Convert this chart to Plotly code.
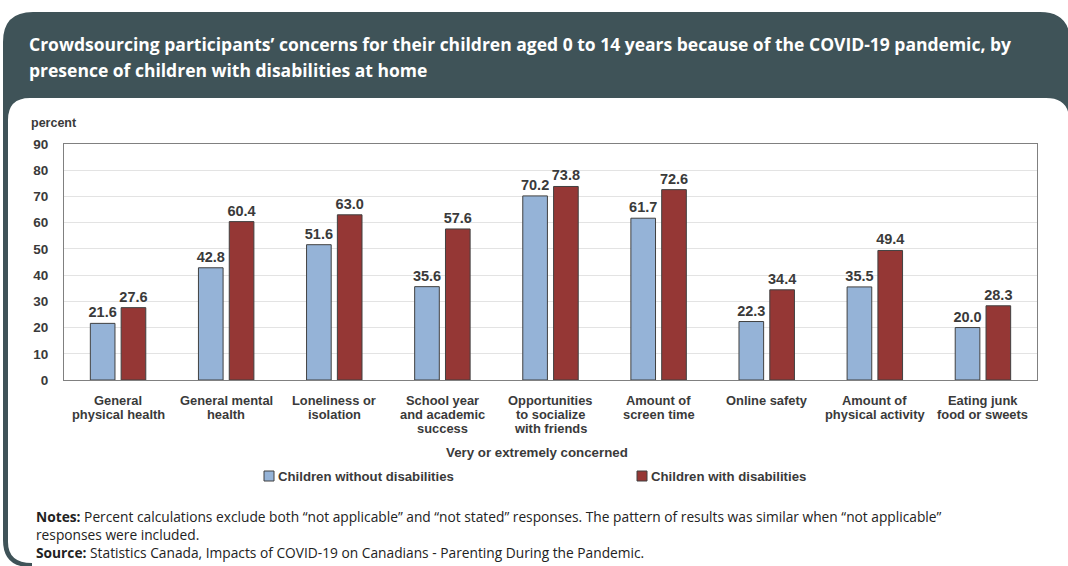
import plotly.graph_objects as go

W, H = 1068, 566

categories = [
    "General<br>physical health",
    "General mental<br>health",
    "Loneliness or<br>isolation",
    "School year<br>and academic<br>success",
    "Opportunities<br>to socialize<br>with friends",
    "Amount of<br>screen time",
    "Online safety",
    "Amount of<br>physical activity",
    "Eating junk<br>food or sweets",
]
without_dis = [21.6, 42.8, 51.6, 35.6, 70.2, 61.7, 22.3, 35.5, 20.0]
with_dis = [27.6, 60.4, 63.0, 57.6, 73.8, 72.6, 34.4, 49.4, 28.3]
series_names = ["Children without disabilities", "Children with disabilities"]
y_ticks = list(range(0, 100, 10))

title_lines = [
    "Crowdsourcing participants’ concerns for their children aged 0 to 14 years because of the COVID-19 pandemic, by",
    "presence of children with disabilities at home",
]
note_lines = [
    "<b>Notes:</b> Percent calculations exclude both “not applicable” and “not stated” responses. The pattern of results was similar when “not applicable”",
    "responses were included.",
    "<b>Source:</b> Statistics Canada, Impacts of COVID-19 on Canadians - Parenting During the Pandemic.",
]

BLUE = "#95B3D7"
RED = "#953735"
DARK = "#3F5358"
TXT = "#3a3a3a"
ARIAL = "Liberation Sans, Arial"


def px(x):
    return x / W


def py(y):
    return 1 - y / H


def path(points):
    out = []
    for p in points:
        cmd = p[0]
        coords = p[1:]
        vals = []
        for i in range(0, len(coords), 2):
            vals.append(f"{px(coords[i]):.5f},{py(coords[i+1]):.5f}")
        out.append(cmd + " ".join(vals))
    return " ".join(out) + " Z"


fig = go.Figure()
for vals, name, col in [(without_dis, series_names[0], BLUE), (with_dis, series_names[1], RED)]:
    fig.add_trace(go.Bar(
        x=categories, y=vals, name=name,
        marker=dict(color=col, line=dict(color="#404040", width=1)),
        texttemplate="%{y:.1f}", textposition="outside",
        textfont=dict(family=ARIAL, size=14.5, color=TXT, weight="bold"),
        cliponaxis=False, constraintext="none",
    ))

x0p, x1p = 64, 1037
ytop, ybot = 144, 380

shapes = [
    # dark header/frame
    dict(type="path", xref="paper", yref="paper", layer="below",
         path=path([("M", 3, 540), ("L", 3, 42), ("Q", 3, 12, 33, 12),
                    ("L", 1040, 12), ("Q", 1070, 12, 1070, 42), ("L", 1070, 600),
                    ("L", 30, 600), ("L", 30, 567), ("Q", 3, 567, 3, 540)]),
         fillcolor=DARK, line=dict(width=0)),
    # white panel
    dict(type="path", xref="paper", yref="paper", layer="below",
         path=path([("M", 8, 542), ("L", 8, 120), ("Q", 8, 98, 30, 98),
                    ("L", 1046, 98), ("Q", 1069, 98, 1069, 120), ("L", 1069, 600),
                    ("L", 32, 600), ("L", 32, 563), ("Q", 8, 563, 8, 542)]),
         fillcolor="white", line=dict(width=0)),
    # legend swatches
    dict(type="rect", xref="paper", yref="paper",
         x0=px(264), x1=px(274), y0=py(481), y1=py(471),
         fillcolor=BLUE, line=dict(color="#404040", width=1)),
    dict(type="rect", xref="paper", yref="paper",
         x0=px(637), x1=px(647), y0=py(481), y1=py(471),
         fillcolor=RED, line=dict(color="#404040", width=1)),
]

annotations = []
for i, line in enumerate(title_lines):
    annotations.append(dict(
        text=f"<b>{line}</b>", x=px(27), y=py([44, 70][i]), xref="paper", yref="paper",
        xanchor="left", yanchor="middle", showarrow=False,
        font=dict(family="Open Sans", size=17.5, color="white")))
annotations.append(dict(
    text="<b>percent</b>", x=px(29), y=py(123), xref="paper", yref="paper",
    xanchor="left", yanchor="middle", showarrow=False,
    font=dict(family=ARIAL, size=12.5, color=TXT)))
# category labels, one annotation per line, placed on the category axis
for cat in categories:
    for j, part in enumerate(cat.split("<br>")):
        annotations.append(dict(
            text=f"<b>{part}</b>", x=cat, y=py(400 + 14 * j), xref="x", yref="paper",
            xanchor="center", yanchor="middle", showarrow=False,
            font=dict(family=ARIAL, size=12.9, color=TXT)))
annotations.append(dict(
    text="<b>Very or extremely concerned</b>", x=px(537), y=py(452), xref="paper", yref="paper",
    xanchor="center", yanchor="middle", showarrow=False,
    font=dict(family=ARIAL, size=13.3, color=TXT)))
annotations.append(dict(
    text=f"<b>{series_names[0]}</b>", x=px(276), y=py(476), xref="paper", yref="paper",
    xanchor="left", yanchor="middle", showarrow=False,
    font=dict(family=ARIAL, size=13.2, color=TXT)))
annotations.append(dict(
    text=f"<b>{series_names[1]}</b>", x=px(649), y=py(476), xref="paper", yref="paper",
    xanchor="left", yanchor="middle", showarrow=False,
    font=dict(family=ARIAL, size=13.2, color=TXT)))
annotations.append(dict(
    text="<br>".join(note_lines), x=px(34), y=py(505), xref="paper", yref="paper",
    xanchor="left", yanchor="top", align="left", showarrow=False,
    font=dict(family="Open Sans", size=13.75, color="#222222")))

fig.update_layout(
    width=W, height=H,
    margin=dict(l=0, r=0, t=0, b=0),
    paper_bgcolor="white", plot_bgcolor="white",
    barmode="group", bargap=0.43, bargroupgap=0.2,
    showlegend=False,
    shapes=shapes, annotations=annotations,
    xaxis=dict(
        domain=[px(x0p), px(x1p)], automargin=False,
        showline=True, linecolor="#808080", linewidth=1, mirror=True,
        ticks="", showticklabels=False,
    ),
    yaxis=dict(
        domain=[py(ybot), py(ytop)], automargin=False,
        range=[0, 90], tickvals=y_ticks,
        showline=True, linecolor="#808080", linewidth=1, mirror=True,
        showgrid=True, gridcolor="#E3E3E3", gridwidth=1, zeroline=False,
        ticks="", ticklabelstandoff=12,
        tickfont=dict(family=ARIAL, size=13.5, color=TXT, weight="bold"),
    ),
)

fig.write_html("out.html", config={"displayModeBar": False},
               post_script="document.body.style.margin='0';")
